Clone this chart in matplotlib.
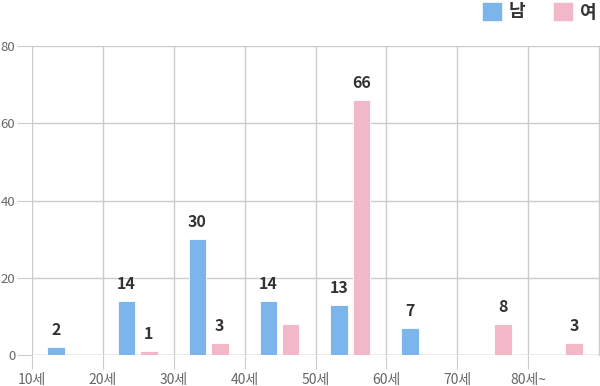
import numpy as np
import matplotlib.pyplot as plt
from matplotlib.patches import Rectangle

plt.rcParams['font.family'] = ['Noto Sans CJK KR', 'DejaVu Sans']

# Data
categories = ["10세", "20세", "30세", "40세", "50세", "60세", "70세", "80세~"]
male = [2, 14, 30, 14, 13, 7, 0, 0]
female = [0, 1, 3, 8, 66, 0, 8, 3]
male_labels = ["2", "14", "30", "14", "13", "7", "", ""]
female_labels = ["", "1", "3", "", "66", "", "8", "3"]

blue = "#7cb5ec"
pink = "#f2b8c8"
grid_color = "#cccccc"

fig = plt.figure(figsize=(6, 3.86), dpi=100)
ax = fig.add_axes([32 / 600, 31 / 386, 567 / 600, 309 / 386])

x = np.arange(len(categories))
width = 0.25
bars_m = ax.bar(x + 0.335, male, width, color=blue, edgecolor="white", linewidth=0.6, zorder=3)
bars_f = ax.bar(x + 0.648, female, width, color=pink, edgecolor="white", linewidth=0.6, zorder=3)

for bars, labels in ((bars_m, male_labels), (bars_f, female_labels)):
    for b, lab in zip(bars, labels):
        if lab:
            ax.text(b.get_x() + b.get_width() / 2, b.get_height() + 2.4, lab,
                    ha="center", va="bottom", fontsize=11.5, fontweight="bold",
                    color="#333333", zorder=4)

ax.set_xlim(0, len(categories))
ax.set_ylim(0, 80)
ax.set_xticks(x)
ax.set_xticklabels(categories)
ax.set_yticks([0, 20, 40, 60, 80])

ax.grid(True, color=grid_color, linewidth=1, zorder=0)
for s in ax.spines.values():
    s.set_visible(False)
ax.axhline(0, color=grid_color, linewidth=1, zorder=1)
ax.axvline(len(categories), color=grid_color, linewidth=1, zorder=0, clip_on=False)
ax.tick_params(axis="x", length=10, color=grid_color, labelsize=10, labelcolor="#666666", pad=3)
ax.tick_params(axis="y", length=11, color=grid_color, labelsize=9.5, labelcolor="#666666", pad=1)

# legend
fig.patches.append(Rectangle((483 / 600, 1 - 20 / 386), 18 / 600, 17 / 386,
                             transform=fig.transFigure, color=blue))
fig.text(509 / 600, 1 - 12 / 386, "남", fontsize=13, fontweight="bold",
         color="#333333", va="center", ha="left")
fig.patches.append(Rectangle((554 / 600, 1 - 20 / 386), 18 / 600, 17 / 386,
                             transform=fig.transFigure, color=pink))
fig.text(580 / 600, 1 - 12 / 386, "여", fontsize=13, fontweight="bold",
         color="#333333", va="center", ha="left")

fig.savefig("out.png", dpi=100)
